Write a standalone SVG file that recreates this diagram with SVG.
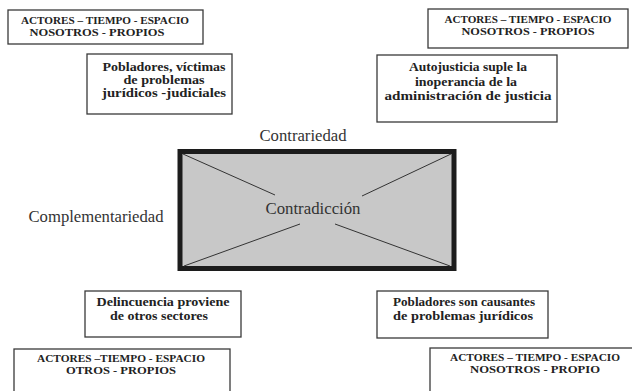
<svg xmlns="http://www.w3.org/2000/svg" width="632" height="391" viewBox="0 0 632 391">
<style>
.box{fill:#fff;stroke:#3a3a3a;stroke-width:1.3}
.b{font-weight:bold;fill:#222;text-anchor:middle}
.s{font-size:10.5px}
.m{font-size:12px}
.r{fill:#333;font-size:16px;text-anchor:middle}
.diag{stroke:#333;stroke-width:1}
</style>
<rect width="632" height="391" fill="#fff"/>
<g font-family="Liberation Serif, Times New Roman, Noto Serif, DejaVu Serif, serif">
<g id="tl-actors">
<rect class="box" x="8" y="10" width="195" height="34"/>
<text class="b s" x="105" y="24" textLength="168" lengthAdjust="spacingAndGlyphs">ACTORES – TIEMPO - ESPACIO</text>
<text class="b s" x="97" y="36" textLength="135" lengthAdjust="spacingAndGlyphs">NOSOTROS - PROPIOS</text>
</g>
<g id="tl-desc">
<rect class="box" x="87" y="54" width="145" height="60"/>
<text class="b m" x="164" y="71" textLength="123" lengthAdjust="spacingAndGlyphs">Pobladores, víctimas</text>
<text class="b m" x="164" y="84" textLength="81" lengthAdjust="spacingAndGlyphs">de problemas</text>
<text class="b m" x="164" y="97" textLength="124" lengthAdjust="spacingAndGlyphs">jurídicos -judiciales</text>
</g>
<g id="tr-actors">
<rect class="box" x="428" y="9" width="200" height="39"/>
<text class="b s" x="528" y="23" textLength="167" lengthAdjust="spacingAndGlyphs">ACTORES – TIEMPO - ESPACIO</text>
<text class="b s" x="528" y="35" textLength="133" lengthAdjust="spacingAndGlyphs">NOSOTROS - PROPIOS</text>
</g>
<g id="tr-desc">
<rect class="box" x="377" y="55" width="180" height="67"/>
<text class="b m" x="468" y="71" textLength="118" lengthAdjust="spacingAndGlyphs">Autojusticia suple la</text>
<text class="b m" x="466" y="86" textLength="102" lengthAdjust="spacingAndGlyphs">inoperancia de la</text>
<text class="b m" x="468" y="100" textLength="167" lengthAdjust="spacingAndGlyphs">administración de justicia</text>
</g>
<g id="center">
<rect x="180" y="151.5" width="274" height="117" fill="#c8c8c8" stroke="#1c1c1c" stroke-width="5"/>
<text class="r" x="313" y="214" textLength="95" lengthAdjust="spacingAndGlyphs">Contradicción</text>
</g>
<g id="connectors">
<line class="diag" x1="183" y1="154" x2="275" y2="195"/>
<line class="diag" x1="451" y1="154" x2="362" y2="196"/>
<line class="diag" x1="184" y1="266" x2="300" y2="224"/>
<line class="diag" x1="335" y1="224" x2="450" y2="266"/>
</g>
<g id="labels">
<text class="r" x="303" y="141" textLength="87" lengthAdjust="spacingAndGlyphs">Contrariedad</text>
<text class="r" x="96" y="222" textLength="135" lengthAdjust="spacingAndGlyphs">Complementariedad</text>
</g>
<g id="bl-desc">
<rect class="box" x="85" y="291" width="156" height="46"/>
<text class="b m" x="163" y="306" textLength="133" lengthAdjust="spacingAndGlyphs">Delincuencia proviene</text>
<text class="b m" x="159" y="320" textLength="98" lengthAdjust="spacingAndGlyphs">de otros sectores</text>
</g>
<g id="br-desc">
<rect class="box" x="377" y="291" width="171" height="47"/>
<text class="b m" x="464" y="306" textLength="142" lengthAdjust="spacingAndGlyphs">Pobladores son causantes</text>
<text class="b m" x="463" y="320" textLength="140" lengthAdjust="spacingAndGlyphs">de problemas jurídicos</text>
</g>
<g id="bl-actors">
<rect class="box" x="14" y="349" width="216" height="60"/>
<text class="b s" x="121" y="362" textLength="168" lengthAdjust="spacingAndGlyphs">ACTORES –TIEMPO - ESPACIO</text>
<text class="b s" x="121" y="374" textLength="110" lengthAdjust="spacingAndGlyphs">OTROS - PROPIOS</text>
</g>
<g id="br-actors">
<rect class="box" x="430" y="348" width="210" height="60"/>
<text class="b s" x="535" y="361" textLength="170" lengthAdjust="spacingAndGlyphs">ACTORES – TIEMPO - ESPACIO</text>
<text class="b s" x="535" y="373" textLength="130" lengthAdjust="spacingAndGlyphs">NOSOTROS - PROPIO</text>
</g>
</g>
</svg>
